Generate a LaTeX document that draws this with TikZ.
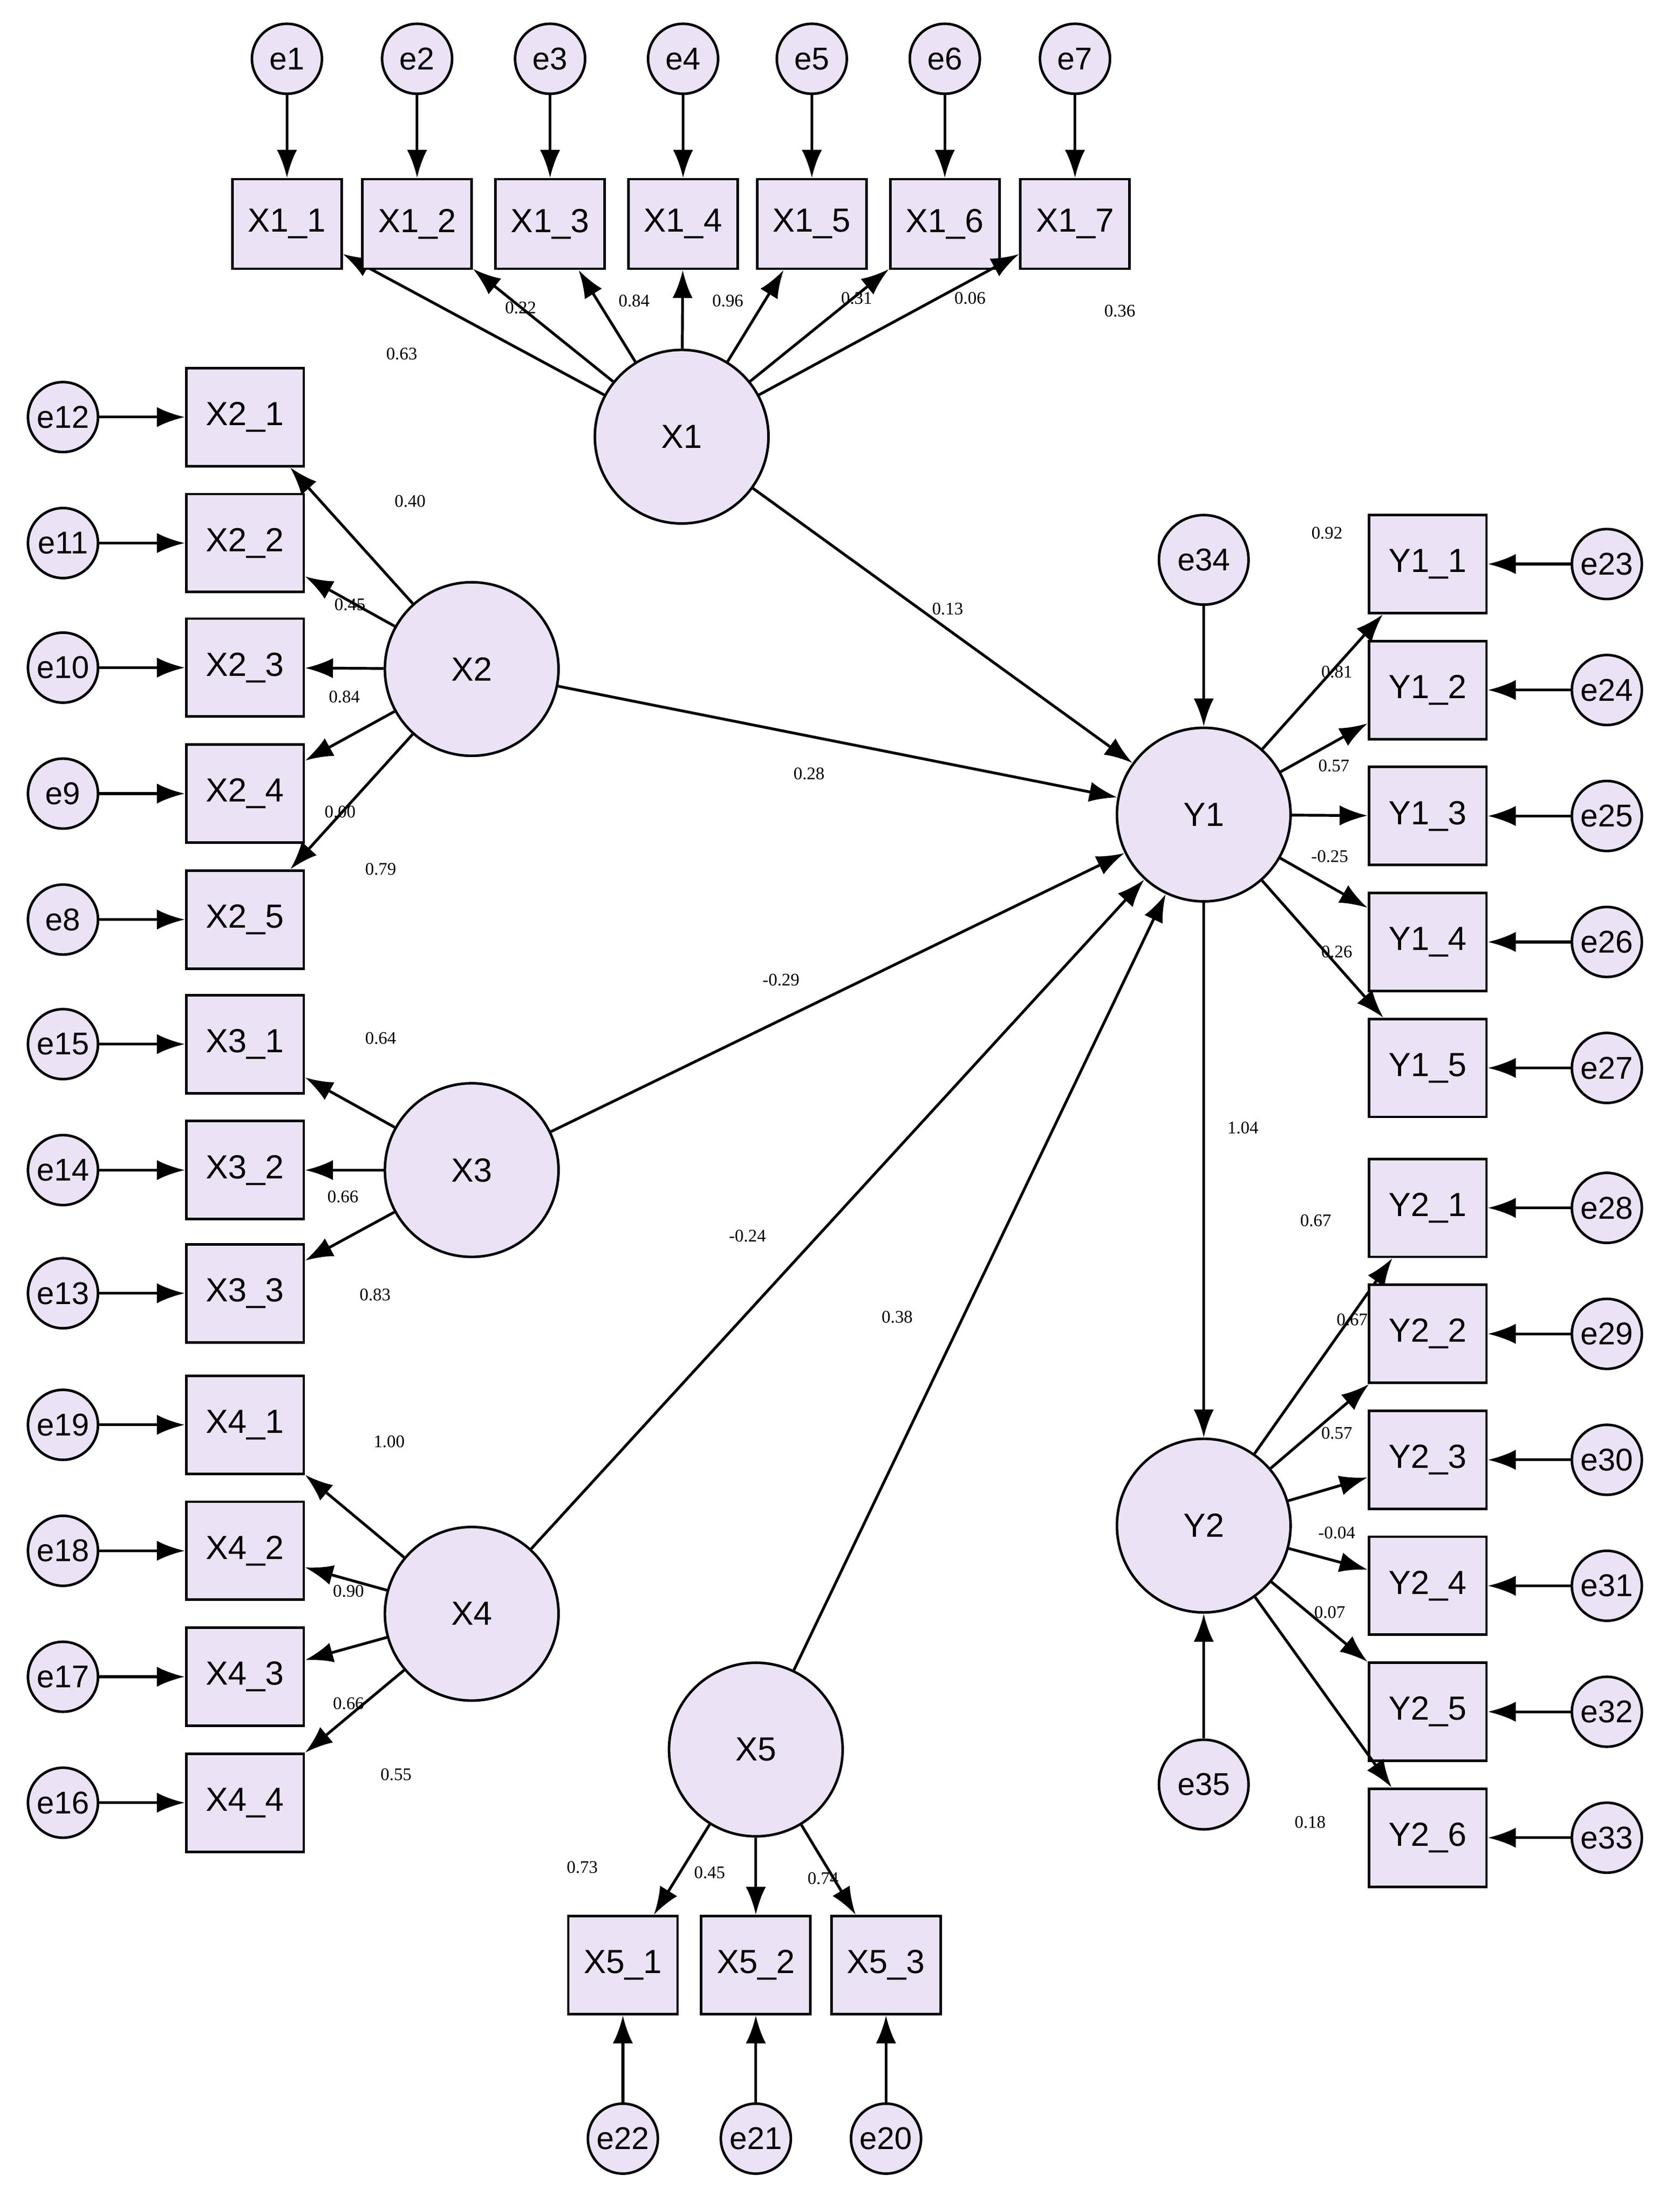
\documentclass[tikz,border=0pt]{standalone}
\usepackage{fontspec}
\setmainfont{Liberation Serif}
\newfontfamily\sansf{Liberation Sans}
\usetikzlibrary{arrows.meta}
\definecolor{lav}{RGB}{236,226,246}

\begin{document}
\begin{tikzpicture}[x=0.025cm, y=-0.025cm]
	\tikzstyle{obs} = [rectangle, draw, line width=1.3pt, fill=lav, minimum width=2.1cm, minimum height=1.75cm, font=\sansf\fontsize{17}{17}\selectfont]
	\tikzstyle{lat} = [circle, draw, line width=1.3pt, fill=lav, minimum size=3.1cm, font=\sansf\fontsize{17}{17}\selectfont]
	\tikzstyle{err} = [circle, draw, line width=1.3pt, fill=lav, minimum size=1.25cm, inner sep=0pt, font=\sansf\fontsize{16}{16}\selectfont]
	\tikzstyle{edge} = [line width=1.4pt, -{Latex[length=5mm,width=3.6mm]}]
	\tikzstyle{lbl} = [font=\fontsize{9}{9}\selectfont]

	\useasboundingbox (0,0) rectangle (1200,1579);

	% latent variables
	\node (X1) [lat] at (487,312) {X1};
	\node (X2) [lat] at (337,478) {X2};
	\node (X3) [lat] at (337,836) {X3};
	\node (X4) [lat] at (337,1153) {X4};
	\node (X5) [lat] at (540,1250) {X5};
	\node (Y1) [lat] at (860,582) {Y1};
	\node (Y2) [lat] at (860,1090) {Y2};
	\node (e34) [err, minimum size=1.6cm] at (860,400) {e34};
	\node (e35) [err, minimum size=1.6cm] at (860,1275) {e35};

	% X1 indicators
	\foreach \i/\x in {1/205,2/298,3/393,4/488,5/580,6/675,7/768} {
		\node (e\i) [err] at (\x,42) {e\i};
		\node (X1_\i) [obs, minimum width=1.95cm, minimum height=1.6cm] at (\x,160) {X1\_\i};
		\draw (e\i) edge [edge] (X1_\i);
		\draw (X1) edge [edge] (X1_\i);
	}

	% X2, X3, X4 indicators
	\foreach \l/\k/\e/\y in {X2/1/12/298, X2/2/11/388, X2/3/10/477, X2/4/9/567, X2/5/8/657,
		X3/1/15/746, X3/2/14/836, X3/3/13/924,
		X4/1/19/1018, X4/2/18/1108, X4/3/17/1198, X4/4/16/1288} {
		\node (\l_\k) [obs] at (175,\y) {\l\_\k};
		\node (e\e) [err] at (45,\y) {e\e};
		\draw (e\e) edge [edge] (\l_\k);
		\draw (\l) edge [edge] (\l_\k);
	}

	% X5 indicators
	\foreach \k/\e/\x in {1/22/445, 2/21/540, 3/20/633} {
		\node (X5_\k) [obs, minimum width=1.95cm] at (\x,1404) {X5\_\k};
		\node (e\e) [err] at (\x,1528) {e\e};
		\draw (e\e) edge [edge] (X5_\k);
		\draw (X5) edge [edge] (X5_\k);
	}

	% Y indicators
	\foreach \l/\k/\e/\y in {Y1/1/23/403, Y1/2/24/493, Y1/3/25/583, Y1/4/26/673, Y1/5/27/763,
		Y2/1/28/863, Y2/2/29/953, Y2/3/30/1043, Y2/4/31/1133, Y2/5/32/1223, Y2/6/33/1313} {
		\node (\l_\k) [obs] at (1020,\y) {\l\_\k};
		\node (e\e) [err] at (1148,\y) {e\e};
		\draw (e\e) edge [edge] (\l_\k);
		\draw (\l) edge [edge] (\l_\k);
	}

	% structural paths
	\foreach \s in {X1,X2,X3,X4,X5}
		\draw (\s) edge [edge] (Y1);
	\draw (Y1) edge [edge] (Y2);
	\draw (e34) edge [edge] (Y1);
	\draw (e35) edge [edge] (Y2);

	% estimates
	\foreach \v/\x/\y in {0.63/287/253, 0.22/372/220, 0.84/453/215, 0.96/520/215, 0.31/612/213, 0.06/693/213, 0.36/800/222,
		0.40/293/358, 0.45/250/432, 0.84/246/498, 0.00/243/580, 0.79/272/621,
		0.64/272/742, 0.66/245/855, 0.83/268/925,
		1.00/278/1030, 0.90/249/1137, 0.66/249/1217, 0.55/283/1268,
		0.73/416/1334, 0.45/507/1338, 0.74/588/1342,
		0.13/677/435, 0.28/578/553, -0.29/558/700, -0.24/534/883, 0.38/641/941,
		0.92/948/381, 0.81/955/480, 0.57/953/547, -0.25/950/612, 0.26/955/680, 1.04/888/806,
		0.67/940/872, 0.67/966/943, 0.57/955/1024, -0.04/955/1095, 0.07/950/1152, 0.18/936/1302}
		\node [lbl] at (\x,\y) {\v};
\end{tikzpicture}
\end{document}
